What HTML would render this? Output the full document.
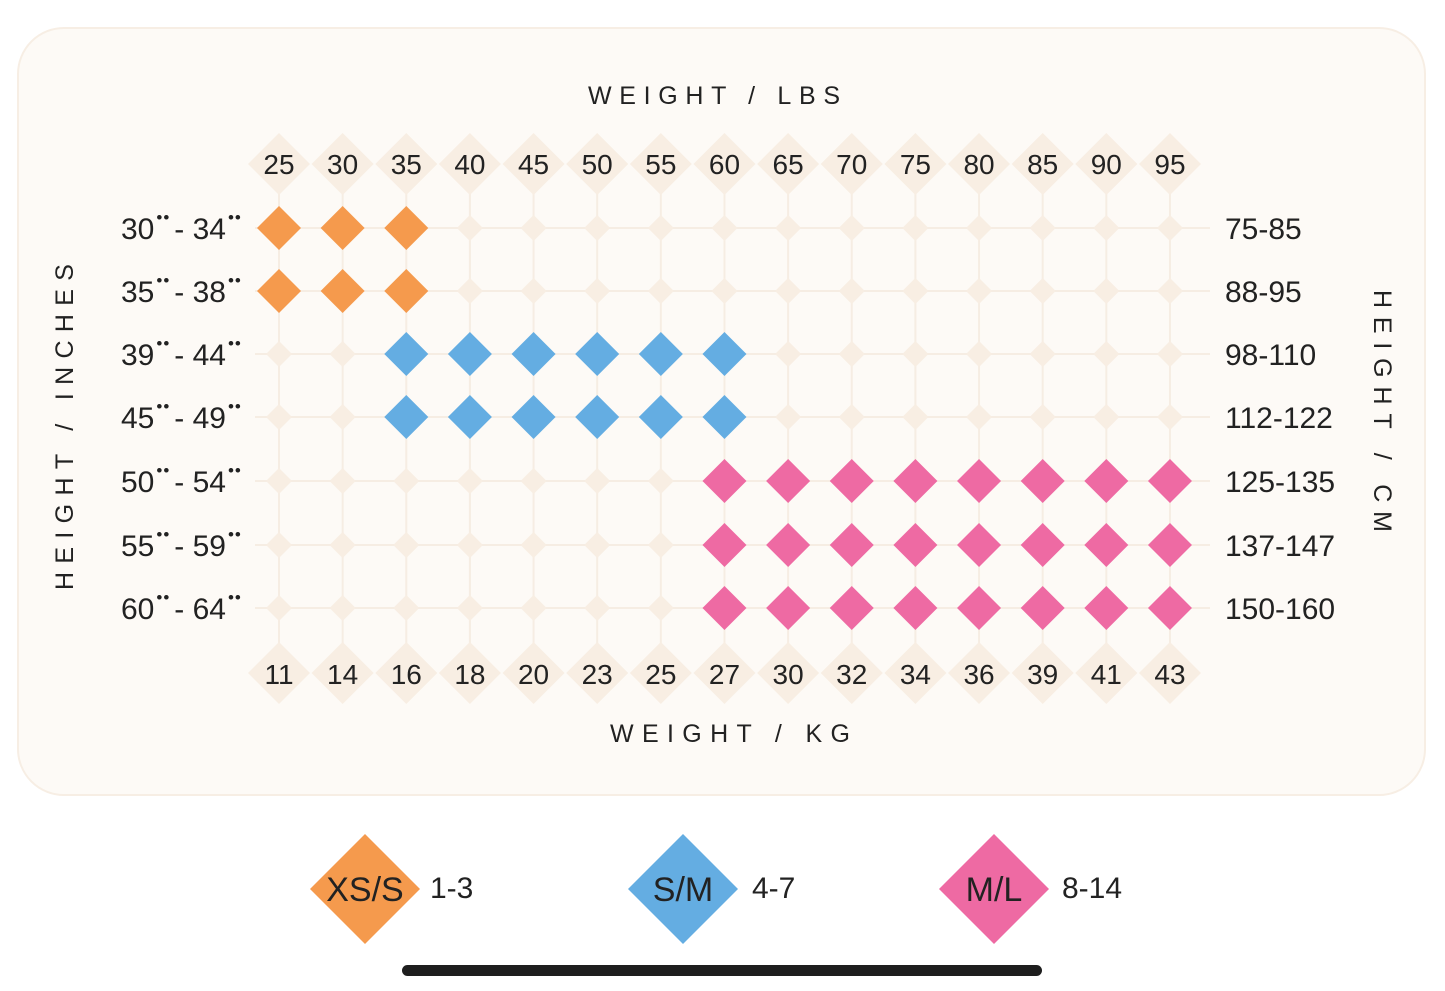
<!DOCTYPE html>
<html><head><meta charset="utf-8"><style>
html,body{margin:0;padding:0;background:#fff;}
svg{display:block;font-family:"Liberation Sans",sans-serif;}
</style></head><body>
<svg width="1445" height="991" viewBox="0 0 1445 991" xmlns="http://www.w3.org/2000/svg">
<defs>
<path id="big" d="M0,-22 L22,0 L0,22 L-22,0Z"/>
<path id="sm" d="M0,-13 L13,0 L0,13 L-13,0Z"/>
<path id="lb" d="M0,-31 L31,0 L0,31 L-31,0Z"/>
</defs>
<rect x="18" y="28" width="1407" height="767" rx="46" fill="#fdfaf6" stroke="#f7eee4" stroke-width="2"/>
<g id="grid" stroke="#f6ede3" stroke-width="2"></g>
<g id="cells"></g>
<g font-size="25" fill="#222">
<text x="588" y="104" textLength="252" lengthAdjust="spacing">WEIGHT / LBS</text>
<text x="610" y="742" textLength="240" lengthAdjust="spacing">WEIGHT / KG</text>
<text transform="translate(73,590) rotate(-90)" textLength="326" lengthAdjust="spacing">HEIGHT / INCHES</text>
<text transform="translate(1374,290) rotate(90)" textLength="242" lengthAdjust="spacing">HEIGHT / CM</text>
</g>
<g id="labels" font-size="28" fill="#222"></g>
<g font-size="34" fill="#222">
<path d="M365,834 L420,889 L365,944 L310,889Z" fill="#f59a4d"/>
<text x="365" y="901" text-anchor="middle" font-size="34">XS/S</text>
<text x="430" y="898" font-size="30">1-3</text>
<path d="M683,834 L738,889 L683,944 L628,889Z" fill="#64ade2"/>
<text x="683" y="901" text-anchor="middle">S/M</text>
<text x="752" y="898" font-size="30">4-7</text>
<path d="M994,834 L1049,889 L994,944 L939,889Z" fill="#ee6aa3"/>
<text x="994" y="901" text-anchor="middle">M/L</text>
<text x="1062" y="898" font-size="30">8-14</text>
</g>
<rect x="402" y="965" width="640" height="11" rx="5.5" fill="#1e1e1e"/>
<script>
var xs=[],ys=[228,291,354,417,481,545,608];
for(var i=0;i<15;i++)xs.push(279+i*63.64);
var lbs=[25,30,35,40,45,50,55,60,65,70,75,80,85,90,95];
var kg=[11,14,16,18,20,23,25,27,30,32,34,36,39,41,43];
var inch=[["30","34"],["35","38"],["39","44"],["45","49"],["50","54"],["55","59"],["60","64"]];
var cm=["75-85","88-95","98-110","112-122","125-135","137-147","150-160"];
var ns="http://www.w3.org/2000/svg";
function el(t,a,p,txt){var e=document.createElementNS(ns,t);for(var k in a)e.setAttribute(k,a[k]);if(txt)e.textContent=txt;p.appendChild(e);return e;}
var g=document.getElementById("grid"),c=document.getElementById("cells"),L=document.getElementById("labels");
xs.forEach(function(x){el("line",{x1:x,y1:164,x2:x,y2:673},g);});
ys.forEach(function(y){el("line",{x1:255,y1:y,x2:1210,y2:y},g);});
xs.forEach(function(x,i){
 el("use",{href:"#lb",x:x,y:164,fill:"#f8eee3"},c);
 el("use",{href:"#lb",x:x,y:673,fill:"#f8eee3"},c);
 el("text",{x:x,y:174,"text-anchor":"middle"},L,lbs[i]);
 el("text",{x:x,y:684,"text-anchor":"middle"},L,kg[i]);
});
ys.forEach(function(y,r){
 xs.forEach(function(x,i){
  var col=null;
  if(r<2&&i<3)col="#f59a4d";
  else if((r==2||r==3)&&i>=2&&i<=7)col="#64ade2";
  else if(r>=4&&i>=7)col="#ee6aa3";
  if(col)el("use",{href:"#big",x:x,y:y,fill:col},c);
  else el("use",{href:"#sm",x:x,y:y,fill:"#f8eee3"},c);
 });
 var t=el("text",{x:121,y:y+11,"font-size":"30"},L);
 el("tspan",{},t,inch[r][0]);
 el("tspan",{"font-size":"17",dy:"-16",dx:"2","letter-spacing":"1"},t,"••");
 el("tspan",{dy:"16",dx:"4"},t,"- "+inch[r][1]);
 el("tspan",{"font-size":"17",dy:"-16",dx:"2","letter-spacing":"1"},t,"••");
 el("text",{x:1225,y:y+11,"font-size":"30"},L,cm[r]);
});
</script>
</svg>
</body></html>
